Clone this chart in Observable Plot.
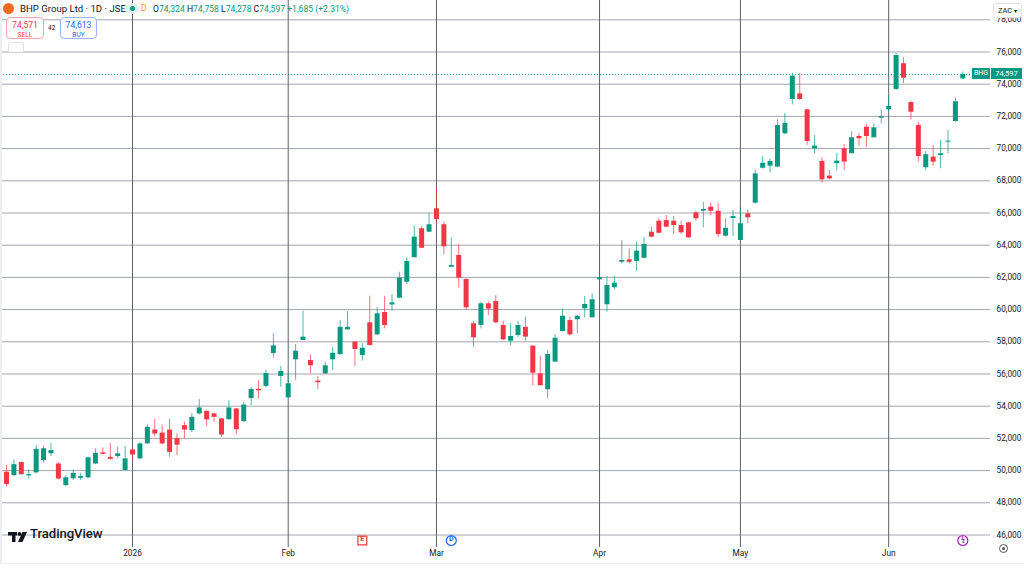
<!DOCTYPE html>
<html>
<head>
<meta charset="utf-8">
<script src="https://cdn.jsdelivr.net/npm/d3@7"></script>
<script src="https://cdn.jsdelivr.net/npm/@observablehq/plot@0.6"></script>
<style>
  html, body { margin: 0; padding: 0; background: #fff; }
  #wrap { position: relative; width: 1024px; height: 568px; overflow: hidden; font-family: Roboto, "Noto Sans", sans-serif; color: #131722; }
  #wrap svg.plot { position: absolute; left: 0; top: 0; }
  .abs { position: absolute; }
  .p { font-size: 8.6px; margin-top: 3px; line-height: 1; }
  .s { font-size: 6.6px; margin-top: 2px; line-height: 1; }
</style>
</head>
<body>
<div id="wrap"></div>
<script>
// ---- data ----
const opens  = [49900,49690,50500,49670,49860,50620,51050,50410,49070,49490,49520,49550,50410,51100,50820,50870,50000,51280,50730,51660,52520,52330,52520,51990,52790,52480,53520,53680,53520,53210,53160,53830,53040,54480,55040,55230,57270,55850,54520,56880,58080,56840,55560,56010,56880,57210,58740,57980,57150,59180,58430,59820,60290,60710,61700,63220,65020,64810,66260,65270,62630,63360,61870,59120,59020,60360,60500,59010,58040,58390,58900,57730,56010,55020,56740,58640,59320,59370,60050,59490,61850,60300,61360,62940,63090,62990,63190,64810,65490,65530,65490,65220,65390,66010,66110,66360,66110,64560,65660,64290,65950,66610,68780,68910,68850,70920,73050,73400,72410,69990,69200,68290,69060,69990,69680,70750,71330,70670,71890,72410,73670,75270,72860,71440,68810,69470,69570,70400,71680,74324];
const highs  = [50310,50660,50540,50040,51550,51530,51690,50500,49690,50040,49830,50830,51350,51410,51690,51450,51490,51300,51720,52840,53200,52830,53200,52270,53000,53540,54410,53720,53560,53240,54340,53860,54230,55160,55580,56240,58510,56470,56050,57830,59900,57190,55850,56730,57630,59320,59880,58000,57880,60830,60140,60830,60920,62320,63220,65220,65160,65980,67640,65430,64460,64040,61910,59280,60460,60460,60870,59280,59120,59260,59530,57730,57110,57460,58450,60010,59530,59630,60810,60980,62060,62060,62060,64290,63770,64190,64480,65120,65640,65840,65800,65490,65420,66110,66670,66610,66570,65640,66150,66360,66200,68680,69500,69360,71790,72190,74680,74680,72410,70810,69430,68640,69710,70250,71050,70920,71480,71540,72410,73300,75920,75640,72940,71640,69820,70190,70500,71120,73150,74758];
const lows   = [48970,49630,49700,49460,49800,50450,50870,49420,49010,49380,49380,49490,50370,50990,50660,50730,49990,50600,50660,51620,52110,51590,50820,50930,51970,52360,53460,52730,53000,52060,53140,52230,53000,54030,54450,55160,56990,55180,54520,55600,58080,56010,55030,55970,56220,57150,58740,56470,56800,57730,58400,58810,59900,60670,61540,63220,63780,64770,65330,63400,62630,61330,59940,57670,58810,59620,59120,58080,57730,58250,58040,55250,55240,54460,56700,58600,58340,58500,59490,59490,61800,59840,61230,62840,62840,62380,63140,64460,64710,65080,64660,64660,64430,65470,65080,65840,64460,64500,64540,64290,65330,66570,68740,68470,68810,70870,72720,72990,70200,69680,67850,68060,68600,68650,69680,70130,70090,70670,71540,72320,73610,74030,71790,69160,68640,68890,68750,69680,71640,74278];
const closes = [49140,50370,49750,49750,51320,51360,51240,49480,49550,49830,49630,50790,51070,51010,50700,51040,50730,50970,51660,52690,52270,51660,51130,51580,52520,53310,53890,53150,53310,52210,53890,52540,54070,55040,54960,56030,57750,56160,55390,57420,58290,56510,55460,56510,57290,58900,58900,57520,57600,57770,59740,59020,60420,61950,62990,64500,63810,65270,65600,63900,62740,61950,60110,58250,60360,60030,59180,58120,58330,59010,58290,56050,55270,57210,58220,59590,58430,59590,60320,60610,61980,61500,61640,63050,62940,63630,64040,64500,64740,65120,65220,64770,64460,65640,66220,66110,64660,65050,65780,65330,65700,68430,69090,69200,71430,71570,74500,73050,70440,70150,68060,68120,69220,69160,70670,70610,70750,71290,71990,72610,75780,74370,72260,69510,69620,69160,69680,70460,72912,74597];

const yTicks = [46000,48000,50000,52000,54000,56000,58000,60000,62000,64000,66000,68000,70000,72000,74000,76000,78000];
const monthIdx = [17, 38, 58, 80, 99, 119];
const monthLabels = ["2026", "Feb", "Mar", "Apr", "May", "Jun"];
const eventIdx = [48, 60, 129];
const eventLabels = ["E", "D", "ϟ"];
const eventColors = ["#f23645", "#2962ff", "#9c27b0"];
const eventSymbols = ["square", "circle", "circle"];

const symbolName = "BHG";
const lastPrice = 74597;
const sellPrice = "74,571", buyPrice = "74,613", spread = "42";

// ---- build ----
const UP = "#089981", DOWN = "#f23645";
const bars = opens.map((o, i) => ({i, open: o, high: highs[i], low: lows[i], close: closes[i], up: closes[i] >= o}));
const events = eventIdx.map((i, k) => ({i, label: eventLabels[k], color: eventColors[k], symbol: eventSymbols[k]}));
const monthMap = new Map(monthIdx.map((d, k) => [d, monthLabels[k]]));

const plot = Plot.plot({
  width: 1024,
  height: 568,
  marginTop: 0,
  marginRight: 34,
  marginBottom: 21,
  marginLeft: 0,
  style: {fontFamily: "Roboto, 'Noto Sans', sans-serif", fontSize: "8.3px", color: "#131722", background: "transparent"},
  x: {type: "linear", domain: [0, 129], range: [6, 962.3]},
  y: {type: "linear", domain: [46000, 76000], range: [534.5, 51.5]},
  marks: [
    Plot.gridY(yTicks, {stroke: "#a3a6ad", strokeOpacity: 1, strokeWidth: 1}),
    Plot.ruleX(monthIdx, {stroke: "#5d6068", strokeWidth: 1}),
    Plot.ruleY([lastPrice], {stroke: UP, strokeDasharray: "1,2", strokeWidth: 1}),
    Plot.ruleX(bars, {x: "i", y1: "low", y2: "high", stroke: d => d.up ? UP : DOWN, strokeWidth: 1, strokeOpacity: 0.7}),
    Plot.ruleX(bars, {x: "i", y1: "open", y2: "close", stroke: d => d.up ? UP : DOWN, strokeWidth: 5}),
    Plot.axisY(yTicks, {anchor: "right", tickSize: 0, tickPadding: 6, tickFormat: d3.format(","), label: null, fill: "#131722"}),
    Plot.axisX(monthIdx, {anchor: "bottom", tickSize: 0, tickPadding: 3, tickFormat: d => monthMap.get(d), label: null, fill: "#131722"}),
    Plot.dot(events, {x: "i", frameAnchor: "bottom", dy: -7, r: 5, symbol: "symbol", stroke: "color", fill: "white", strokeWidth: 1.2}),
    Plot.text(events, {x: "i", text: "label", frameAnchor: "bottom", dy: -7, fill: "color", fontSize: 7, fontWeight: "bold"})
  ]
});
plot.classList.add("plot");
const wrap = document.getElementById("wrap");
wrap.appendChild(plot);

const yS = plot.scale("y");
const fmt = d3.format(",");

function add(html, style) {
  const d = document.createElement("div");
  d.className = "abs";
  d.style.cssText = style;
  d.innerHTML = html;
  wrap.appendChild(d);
  return d;
}

// header
add("", "left:3px;top:3px;width:11px;height:11px;border-radius:50%;background:#f26b21;");
add("BHP Group Ltd · 1D · JSE", "left:20px;top:3px;font-size:9.6px;white-space:nowrap;color:#131722;");
add("", "left:126px;top:3px;width:13px;height:11px;border-radius:6px;background:#e3f1ee;");
add("", "left:130px;top:6px;width:5px;height:5px;border-radius:50%;background:" + UP + ";");
add("D", "left:141px;top:3px;font-size:8.5px;color:#ff9800;");
const o = opens[opens.length-1], h = highs[highs.length-1], l = lows[lows.length-1], c = closes[closes.length-1];
const prev = closes[closes.length-2];
const ch = c - prev;
add(`O<b style="font-weight:normal;color:${UP}">${fmt(o)}</b> H<b style="font-weight:normal;color:${UP}">${fmt(h)}</b> L<b style="font-weight:normal;color:${UP}">${fmt(l)}</b> C<b style="font-weight:normal;color:${UP}">${fmt(c)}</b> <b style="font-weight:normal;color:${UP}">+${fmt(Math.round(ch))} (+${(ch / prev * 100).toFixed(2)}%)</b>`,
    "left:153px;top:4px;font-size:8.6px;white-space:nowrap;color:#131722;");
// sell / buy
add(`<div class="p">${sellPrice}</div><div class="s">SELL</div>`, "left:6px;top:17px;width:36px;height:20px;border:1px solid #f5a3ab;color:#f23645;border-radius:4px;background:#fff;text-align:center;");
add(spread, "left:48px;top:24px;font-size:6.5px;color:#131722;");
add(`<div class="p">${buyPrice}</div><div class="s">BUY</div>`, "left:60px;top:17px;width:35px;height:20px;border:1px solid #9db3f5;color:#2962ff;border-radius:4px;background:#fff;text-align:center;");
add("", "left:8px;top:42px;width:14px;height:9px;border:1px solid #e0e3eb;border-bottom:none;border-radius:3px 3px 0 0;background:#fff;");
// currency button
add("ZAC <span style='font-size:6px'>▾</span>", "left:993px;top:3px;width:27px;height:13px;border:1px solid #e0e3eb;border-radius:3px;background:#fff;font-size:7.5px;line-height:13px;text-align:center;color:#131722;");
// last price label
const ly = yS.apply(lastPrice);
add(symbolName, `left:972px;top:${ly - 6}px;width:18px;height:11px;background:${UP};color:#fff;font-size:7px;line-height:11px;text-align:center;`);
add(fmt(lastPrice), `left:991px;top:${ly - 6}px;width:31px;height:11px;background:${UP};color:#fff;font-size:7.5px;line-height:11px;text-align:center;`);
// TradingView logo
add(`<svg width="22" height="14" viewBox="0 0 22 14"><rect x="0" y="2" width="9" height="3.5" fill="#131722"/><rect x="4" y="2" width="3.5" height="10" fill="#131722"/><circle cx="11.5" cy="4" r="2" fill="#131722"/><path d="M14.5 2 H19 L14.5 12 H10 Z" fill="#131722"/></svg>`,
    "left:8px;top:529px;width:22px;height:14px;");
add("TradingView", "left:30px;top:526px;font-size:13.2px;font-weight:500;color:#131722;letter-spacing:-0.1px;");
// gear + bottom border
add("", "left:999px;top:544px;width:7px;height:7px;border:1.2px solid #50535e;border-radius:50%;");
add("", "left:1002px;top:547px;width:3px;height:3px;background:#50535e;border-radius:50%;");
add("", "left:0;top:563px;width:1024px;height:1px;background:#eceef2;");
add("", "left:0;top:0;width:2px;height:563px;background:#eceef2;");
</script>
</body>
</html>
